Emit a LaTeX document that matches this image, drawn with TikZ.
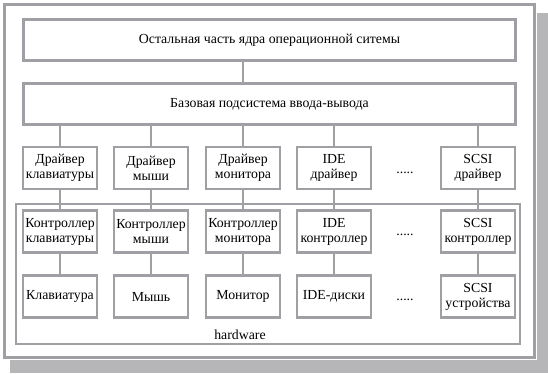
\documentclass[tikz,border=0pt]{standalone}
\usepackage{fontspec}
\setmainfont{Liberation Serif}
\usepackage{tikz}
\usetikzlibrary{positioning,calc}

\definecolor{framegray}{RGB}{160,160,164}
\definecolor{shadegray}{RGB}{182,182,184}

\begin{document}
\begin{tikzpicture}[x=1pt,y=-1pt,
        font=\fontsize{13.8}{15}\selectfont,
        line width=2.6pt,
        blk/.style={rectangle, draw=framegray, fill=white, align=center,
            minimum width=74pt, minimum height=42pt, inner sep=0pt},
        wide/.style={blk, minimum width=492pt, minimum height=41pt},
        wire/.style={draw=framegray},
        gap/.style={anchor=base}
    ]
        \useasboundingbox (0,0) rectangle (548,373);
        % shadow and outer frame
        \fill[shadegray] (537,13) rectangle (548,373);
        \fill[shadegray] (10,360) rectangle (548,373);
        \draw[framegray] (4.5,4.5) rectangle (534.5,357.5);

        % kernel and I/O subsystem
        \node[wide] (core) at (269.5,40) {Остальная часть ядра операционной ситемы};
        \node[wide] (base) at (269.5,104) {Базовая подсистема ввода-вывода};

        % hardware frame
        \draw[framegray] (16,204) rectangle (520,344);
        \node (hw) at (240,335) {hardware};

        % drivers
        \node[blk] (drvkbd) at (60,168) {Драйвер\\клавиатуры};
        \node[blk] (drvmouse) at (151,168) {Драйвер\\мыши};
        \node[blk] (drvmon) at (243,168) {Драйвер\\монитора};
        \node[blk] (drvide) at (334,168) {IDE\\драйвер};
        \node[gap] (dotsdrv) at (405,173) {.....};
        \node[blk] (drvscsi) at (478,168) {SCSI\\драйвер};

        % controllers
        \node[blk] (ctlkbd) at (60,231.5) {Контроллер\\клавиатуры};
        \node[blk] (ctlmouse) at (151,231.5) {Контроллер\\мыши};
        \node[blk] (ctlmon) at (243,231.5) {Контроллер\\монитора};
        \node[blk] (ctlide) at (334,231.5) {IDE\\контроллер};
        \node[gap] (dotsctl) at (405,235) {.....};
        \node[blk] (ctlscsi) at (478,231.5) {SCSI\\контроллер};

        % devices
        \node[blk] (devkbd) at (60,296.5) {Клавиатура};
        \node[blk] (devmouse) at (151,296.5) {Мышь};
        \node[blk] (devmon) at (243,296.5) {Монитор};
        \node[blk] (devide) at (334,296.5) {IDE-диски};
        \node[gap] (dotsdev) at (405,300) {.....};
        \node[blk] (devscsi) at (478,296.5) {SCSI\\устройства};

        % connectors
        \draw[wire] (core.south -| drvmon) -- (base.north -| drvmon);
        \foreach \col in {kbd,mouse,mon,ide,scsi} {
            \draw[wire] (base.south -| drv\col) -- (drv\col.north);
            \draw[wire] (drv\col) -- (ctl\col);
            \draw[wire] (ctl\col) -- (dev\col);
        }
    \end{tikzpicture}
\end{document}
